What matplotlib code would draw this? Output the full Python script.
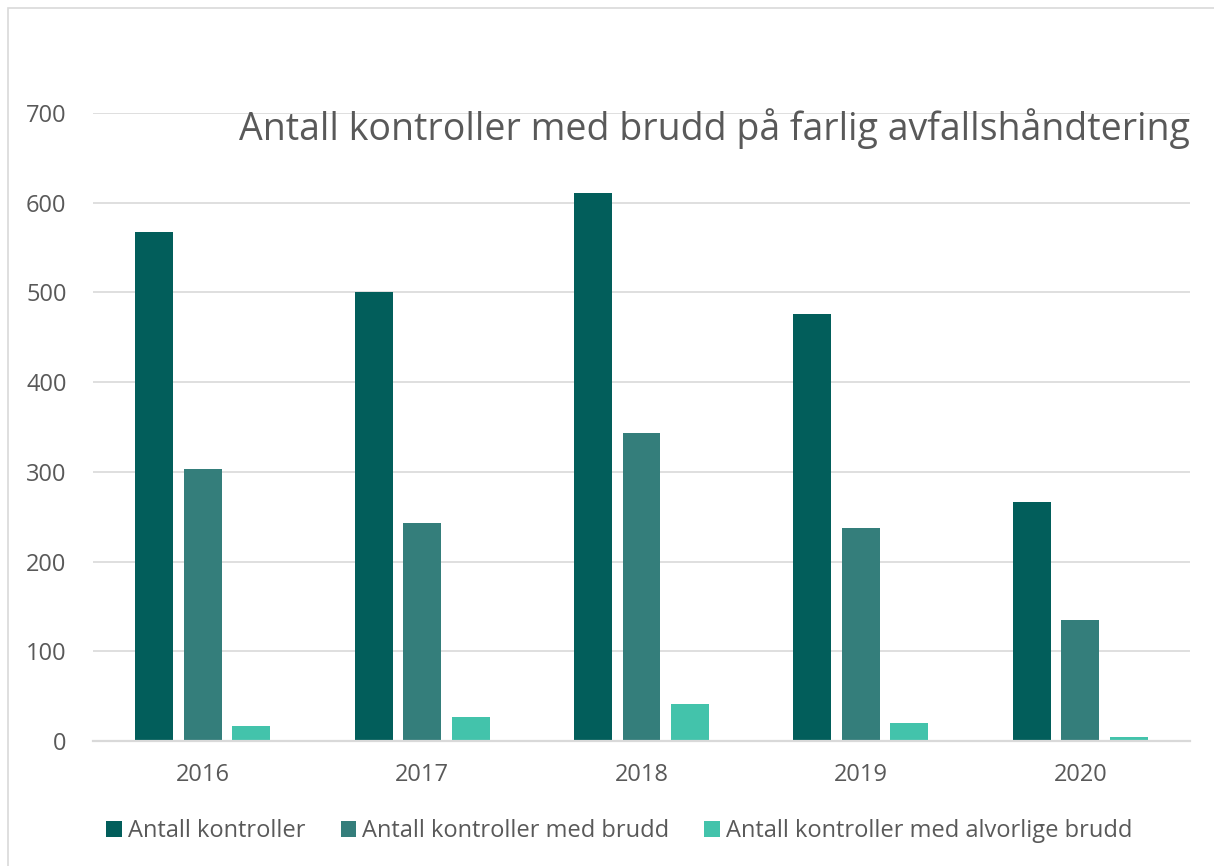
import matplotlib.pyplot as plt
import matplotlib.patches as mpatches
import numpy as np

# Data
years = ["2016", "2017", "2018", "2019", "2020"]
antall_kontroller = [567, 501, 611, 476, 266]
kontroller_med_brudd = [303, 243, 343, 237, 135]
kontroller_alvorlige_brudd = [17, 27, 41, 20, 5]

series_names = ["Antall kontroller",
                "Antall kontroller med brudd",
                "Antall kontroller med alvorlige brudd"]
colors = ["#025E5B", "#347E7B", "#43C3AB"]
text_color = "#595959"
grid_color = "#D9D9D9"

plt.rcParams['font.family'] = ['Open Sans', 'DejaVu Sans']

fig = plt.figure(figsize=(12.14, 8.66), dpi=100)
ax = fig.add_axes([0.0766, 0.1443, 0.9036, 0.7252])

# light frame round the chart area
fig.patches.append(mpatches.Rectangle((8 / 1214, -0.01), 1.0, 1 - 8 / 866 + 0.01,
                                      transform=fig.transFigure, fill=False,
                                      edgecolor=grid_color, linewidth=1.2))

x = np.arange(len(years))
width = 0.173
offset = 0.221
all_series = [antall_kontroller, kontroller_med_brudd, kontroller_alvorlige_brudd]
for i, (vals, name, col) in enumerate(zip(all_series, series_names, colors)):
    ax.bar(x + (i - 1) * offset, vals, width, color=col, label=name, zorder=3)

ax.set_xlim(-0.5, len(years) - 0.5)
ax.set_ylim(0, 700)
ax.set_yticks(range(0, 701, 100))
ax.set_xticks(x)
ax.set_xticklabels(years)

ax.grid(axis='y', color=grid_color, linewidth=1.2, zorder=0)
for s in ['top', 'right', 'left']:
    ax.spines[s].set_visible(False)
ax.spines['bottom'].set_color(grid_color)
ax.spines['bottom'].set_linewidth(1.6)
ax.spines['bottom'].set_zorder(4)

ax.tick_params(axis='y', length=0, pad=19, labelsize=17, labelcolor=text_color)
ax.tick_params(axis='x', length=0, pad=16, labelsize=17, labelcolor=text_color)

fig.text(0.980, 0.852, "Antall kontroller med brudd på farlig avfallshåndtering",
         ha='right', va='center', fontsize=27, color=text_color)

leg = fig.legend(loc='center', bbox_to_anchor=(0.510, 0.040), ncol=3,
                 frameon=False, fontsize=17, handlelength=0.65, handleheight=0.65,
                 handletextpad=0.25, columnspacing=1.5)
for t in leg.get_texts():
    t.set_color(text_color)

fig.savefig("out.png", dpi=100)
